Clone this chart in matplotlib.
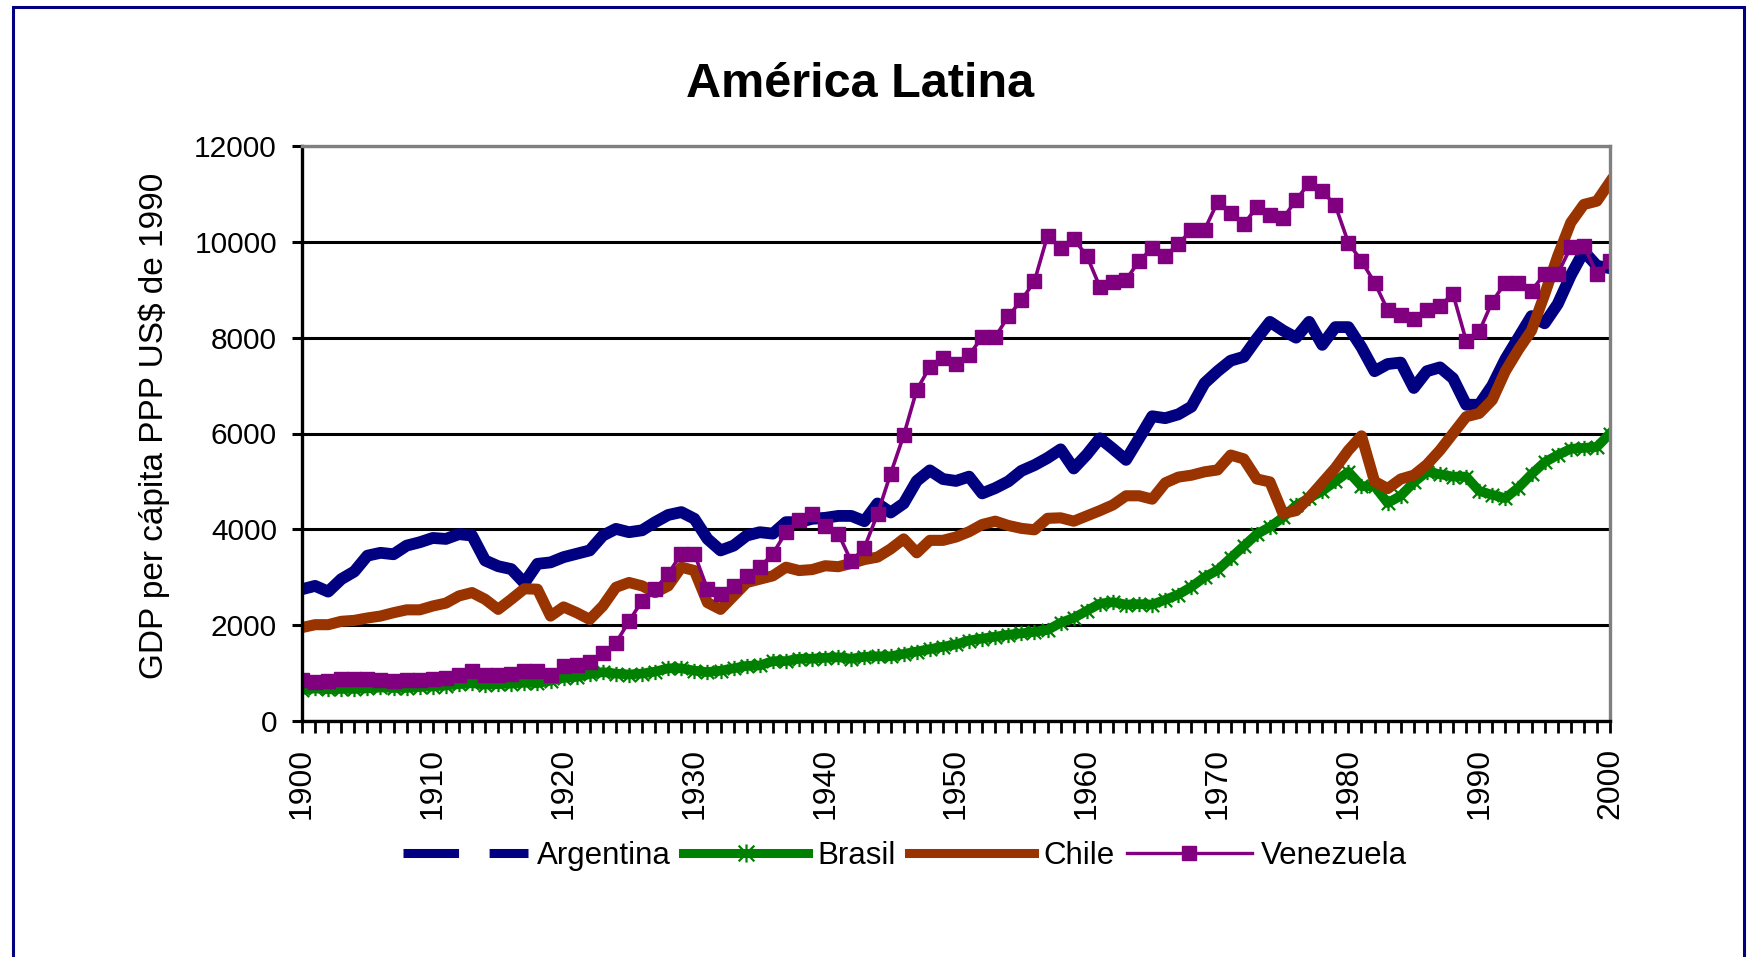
import matplotlib
matplotlib.use("Agg")
import matplotlib.pyplot as plt
from matplotlib.lines import Line2D
from matplotlib.patches import Rectangle
from matplotlib.path import Path
from matplotlib.ticker import MultipleLocator

plt.rcParams['font.family'] = ['Liberation Sans', 'DejaVu Sans']

years = list(range(1900, 2001))

argentina = [
    2750, 2820, 2700, 2960, 3120, 3450, 3510, 3480, 3660, 3730,
    3820, 3800, 3900, 3870, 3350, 3230, 3170, 2880, 3280, 3310,
    3420, 3490, 3560, 3870, 4010, 3940, 3980, 4150, 4300, 4360,
    4220, 3800, 3560, 3660, 3870, 3940, 3910, 4150, 4150, 4220,
    4240, 4280, 4280, 4170, 4540, 4350, 4540, 5010, 5230, 5050,
    5010, 5100, 4750, 4860, 5000, 5220, 5340, 5490, 5670, 5270,
    5560, 5900, 5680, 5450, 5900, 6360, 6320, 6400, 6560, 7050,
    7300, 7520, 7600, 7980, 8330, 8150, 8000, 8330, 7850, 8220,
    8220, 7800, 7300, 7450, 7480, 6950, 7300, 7380, 7150, 6600,
    6600, 7000, 7550, 8000, 8450, 8300, 8700, 9300, 9800, 9500,
    9450]

brasil = [
    650, 680, 660, 670, 670, 680, 700, 690, 690, 710,
    720, 740, 770, 790, 760, 770, 780, 800, 790, 840,
    900, 920, 980, 1020, 990, 970, 990, 1030, 1100, 1100,
    1050, 1020, 1050, 1100, 1150, 1160, 1250, 1250, 1300, 1300,
    1320, 1330, 1300, 1340, 1350, 1350, 1400, 1450, 1500, 1550,
    1600, 1680, 1720, 1760, 1800, 1830, 1860, 1900, 2050, 2150,
    2300, 2450, 2480, 2430, 2440, 2430, 2530, 2640, 2800, 3000,
    3150, 3400, 3650, 3900, 4050, 4250, 4500, 4650, 4800, 5000,
    5200, 4900, 4900, 4550, 4700, 4980, 5200, 5150, 5100, 5100,
    4800, 4720, 4650, 4870, 5150, 5400, 5550, 5680, 5700, 5720,
    6000]

chile = [
    1950, 2010, 2010, 2080, 2100, 2150, 2190, 2260, 2320, 2320,
    2400, 2460, 2610, 2680, 2540, 2330, 2540, 2760, 2750, 2190,
    2380, 2260, 2120, 2400, 2790, 2890, 2820, 2680, 2820, 3210,
    3140, 2470, 2330, 2610, 2890, 2960, 3030, 3210, 3140, 3160,
    3240, 3220, 3290, 3370, 3420, 3590, 3800, 3510, 3770, 3770,
    3840, 3950, 4100, 4170, 4080, 4020, 3990, 4230, 4240, 4170,
    4280, 4390, 4510, 4700, 4700, 4630, 4970, 5090, 5130, 5200,
    5240, 5550, 5470, 5050, 4990, 4330, 4390, 4660, 4970, 5280,
    5650, 5950, 5000, 4850, 5050, 5130, 5350, 5650, 6000, 6350,
    6420, 6700, 7300, 7750, 8150, 8900, 9700, 10400, 10780, 10850,
    11250]

venezuela = [
    850, 820, 830, 870, 880, 880, 860, 830, 850, 860,
    880, 900, 950, 1050, 950, 950, 980, 1050, 1050, 950,
    1150, 1170, 1240, 1420, 1630, 2080, 2510, 2750, 3070, 3490,
    3490, 2750, 2650, 2820, 3030, 3210, 3490, 3940, 4190, 4330,
    4060, 3910, 3330, 3620, 4320, 5160, 5960, 6910, 7390, 7570,
    7460, 7640, 8010, 8010, 8450, 8780, 9180, 10130, 9880, 10060,
    9710, 9060, 9170, 9210, 9600, 9870, 9710, 9950, 10250, 10250,
    10830, 10600, 10370, 10720, 10560, 10490, 10870, 11230, 11060, 10760,
    9980, 9600, 9150, 8580, 8470, 8380, 8580, 8670, 8910, 7940,
    8130, 8750, 9150, 9150, 8980, 9330, 9330, 9890, 9920, 9330,
    9600]

col_arg = '#000080'
col_bra = '#008000'
col_chi = '#993300'
col_ven = '#800080'

# Excel style "star" marker: an x with a vertical stroke
star = Path([(-1, -1), (1, 1), (-1, 1), (1, -1), (0, -1.15), (0, 1.15)],
            [Path.MOVETO, Path.LINETO] * 3)

fig = plt.figure(figsize=(17.52, 9.57), dpi=100)
ax = fig.add_axes([302 / 1752, 1 - 721 / 957, (1610 - 302) / 1752, (721 - 146) / 957])

ax.plot(years, argentina, color=col_arg, lw=8.5)
ax.plot(years, brasil, color=col_bra, lw=7, marker=star, ms=11, mew=1.6)
ax.plot(years, chile, color=col_chi, lw=8)
ax.plot(years, venezuela, color=col_ven, lw=2.6, marker='s', ms=10)

ax.set_xlim(1900, 2000)
ax.set_ylim(0, 12000)
ax.set_yticks(range(0, 12001, 2000))
ax.xaxis.set_major_locator(MultipleLocator(10))
ax.xaxis.set_minor_locator(MultipleLocator(1))

ax.set_axisbelow(True)
ax.yaxis.grid(True, color='black', lw=2.2)

for side in ['left', 'bottom']:
    ax.spines[side].set_color('black')
    ax.spines[side].set_linewidth(2.4)
for side in ['top', 'right']:
    ax.spines[side].set_color('#808080')
    ax.spines[side].set_linewidth(2.4)

ax.tick_params(axis='y', direction='out', length=7, width=2.2, pad=11, labelsize=21.5)
ax.tick_params(axis='x', which='both', direction='out', length=8.6, width=2, pad=11,
               labelsize=23, labelrotation=90)

fig.text(0.491, 0.912, 'América Latina', fontsize=35, fontweight='bold',
         ha='center', va='center')
fig.text(154 / 1752, 1 - 426 / 957, 'GDP per cápita PPP US$ de 1990', fontsize=24,
         rotation=90, ha='center', va='center')

handles = [
    Line2D([], [], color=col_arg, lw=6.5, linestyle=(0, (40 / 6.5, 22 / 6.5))),
    Line2D([], [], color=col_bra, lw=6.5, marker=star, ms=13, mew=1.6),
    Line2D([], [], color=col_chi, lw=6.5),
    Line2D([], [], color=col_ven, lw=2.4, marker='s', ms=10),
]
labels = ['Argentina', 'Brasil', 'Chile', 'Venezuela']
fig.legend(handles, labels, loc='center', bbox_to_anchor=(0.5165, 0.1055), ncol=4,
           frameon=False, fontsize=22.5, handlelength=4, handletextpad=0.3,
           columnspacing=0.4, numpoints=1)

# outer frame (open at the bottom)
fig.patches.append(Rectangle((13 / 1752, -0.05), (1744 - 13) / 1752, 1.05 - 6.5 / 957,
                             transform=fig.transFigure, fill=False,
                             ec='#000080', lw=2.2))

fig.savefig('out.png', dpi=100)
